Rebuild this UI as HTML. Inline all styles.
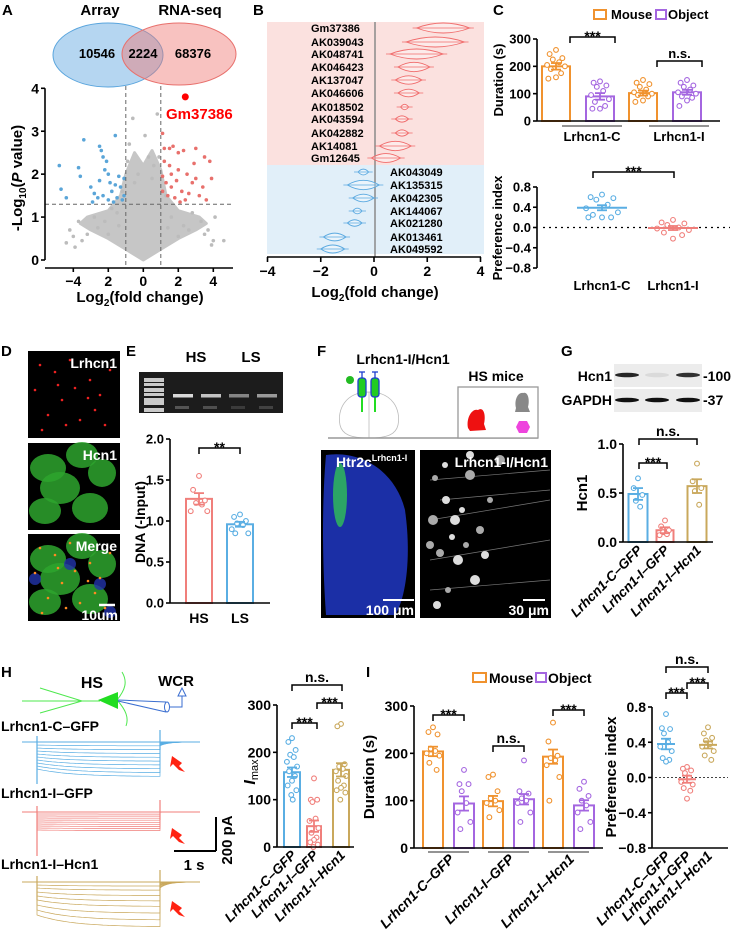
<!DOCTYPE html>
<html><head><meta charset="utf-8">
<style>
body{margin:0;background:#fff}
svg{display:block;font-family:"Liberation Sans",Arial,sans-serif;font-weight:bold}
</style></head>
<body>
<svg id="fig" width="733" height="938" viewBox="0 0 733 938">
<rect width="733" height="938" fill="#fff"/>
</svg>
<script>
// ===== DATA =====
// A volcano
const volBlueFC=[-4.8,-4.7,-4.4,-3.7,-3.4,-3.6,-2.5,-2.4,-2.3,-2.1,-2.2,-2.0,-2.5,-1.9,-1.6,-1.4,-1.6,-1.3,-1.1,-2.8,-2.6,-2.3,-2.0,-1.8,-1.5,-1.2,-3.0,-2.9,-1.7,-1.1];
const volBlueP=[2.2,1.65,1.45,2.15,2.8,1.95,2.65,2.55,2.4,2.3,2.1,2.0,1.85,1.8,2.9,1.95,1.75,1.7,1.9,1.55,1.45,1.5,1.4,1.6,1.45,1.4,1.7,1.35,1.35,1.5];
const volRedFC=[1.1,1.2,1.5,1.7,2.0,2.3,3.0,3.5,3.8,3.9,3.0,2.8,2.5,2.0,1.5,1.2,1.1,1.3,1.6,1.9,2.2,2.6,3.2,3.6,1.4,1.8,2.4,1.1,1.6,2.9,3.4,2.1];
const volRedP=[2.95,2.6,2.6,2.65,2.5,2.55,2.6,2.4,2.3,1.9,1.9,1.8,2.0,2.1,2.2,2.3,1.95,1.8,1.7,1.85,1.6,1.55,1.5,1.4,1.5,1.45,1.4,1.6,2.0,2.25,1.7,1.35];
const volGrayFC=[-0.6,0.1,0.8,-0.8,0.3,-4.2,4.6,4.1,-3.7,-4.4,3.3,2.8,-2.8,-1.8,0.6,-0.3,-1.2,1.3,-0.9,0.9,-2.2,2.3,-3.2,3.7,-0.5,0.5,-1.5,1.6,-4.0,4.0,-2.6,2.6,-3.5,3.5,-2.0,2.0,-1.4,1.4,-3.9,3.9];
const volGrayP=[3.3,2.9,3.4,2.7,2.4,0.7,0.45,1.0,0.9,0.4,0.9,1.1,1.0,1.2,2.2,2.0,1.6,1.5,2.3,2.4,0.9,0.8,0.6,0.7,1.8,1.9,1.1,1.0,0.55,0.45,0.75,0.7,0.45,0.6,0.6,0.55,0.8,0.75,0.3,0.35];
const cloudFC=[0,-1,-2,-3,-3.6,-3.2,-2,-1.3,-1,-0.5,0,0.5,1,1.3,2,3.2,3.6,3,2,1];
const cloudP=[0,0.25,0.5,0.7,0.85,1.0,1.15,1.5,2.0,2.5,2.2,2.55,2.1,1.5,1.15,1.0,0.85,0.7,0.5,0.25];
const hitFC=[2.4], hitP=[3.8];
// B violins
const upGenes=['Gm37386','AK039043','AK048741','AK046423','AK137047','AK046606','AK018502','AK043594','AK042882','AK14081','Gm12645'];
const upLo=[1.6,1.2,0.6,0.9,0.8,0.9,1.0,0.8,0.8,0.2,-0.1];
const upHi=[3.6,3.4,2.6,2.1,1.8,1.7,1.3,1.3,1.3,1.4,1.0];
const dnGenes=['AK043049','AK135315','AK042305','AK144067','AK021280','AK013461','AK049592'];
const dnLo=[-0.6,-1.0,-0.8,-0.8,-1.0,-1.9,-2.0];
const dnHi=[-0.2,0.2,0.0,-0.45,-0.45,-1.05,-1.1];
// C
const cCats=['Lrhcn1-C','Lrhcn1-I'];
const cMouseMean=[200,102], cMouseSem=[12,9];
const cObjMean=[90,105], cObjSem=[12,9];
const cMousePts=[[260,245,230,225,215,205,200,190,175,160,155],[150,140,135,125,115,105,100,95,90,75,70]];
const cObjPts=[[145,140,130,125,110,95,80,70,55,45,45],[150,140,130,125,115,105,100,90,85,75,55]];
const cPIMean=[0.39,-0.01], cPISem=[0.05,0.04];
const cPIPts=[[0.65,0.6,0.58,0.55,0.45,0.38,0.3,0.25,0.2,0.2,0.2],[0.15,0.1,0.08,0.05,0.0,-0.02,-0.05,-0.1,-0.15,-0.22]];
// E
const eCats=['HS','LS'];
const eMean=[1.27,0.96], eSem=[0.07,0.03];
const ePts=[[1.55,1.38,1.25,1.22,1.2,1.12,1.12],[1.08,1.05,1.0,0.97,0.95,0.9,0.85,0.85]];
// G
const gCats=['Lrhcn1-C–GFP','Lrhcn1-I–GFP','Lrhcn1-I–Hcn1'];
const gMean=[0.49,0.12,0.57], gSem=[0.06,0.03,0.07];
const gPts=[[0.65,0.55,0.48,0.42,0.36],[0.22,0.16,0.12,0.10,0.08,0.07],[0.80,0.62,0.55,0.52,0.38]];
// H
const hMean=[158,44,163], hSem=[10,12,14];
const hPts=[[230,222,205,195,190,180,170,160,150,140,130,120,110,100],[145,100,100,95,60,55,40,30,20,15,10,5,0],[260,255,175,170,165,160,150,140,130,125,120,115,100]];
const hBlueLevels=[3,6,9,12,15,18,21,24,27];
const hRedLevels=[2,4,6,8,10,12,14,16,18];
const hGoldLevels=[3,6,10,14,18,23,28,33];
// I
const iCats=['Lrhcn1-C–GFP','Lrhcn1-I–GFP','Lrhcn1-I–Hcn1'];
const iMouseMean=[204,99,193], iMouseSem=[10,11,15];
const iObjMean=[94,103,90], iObjSem=[15,11,11];
const iMousePts=[[255,245,240,210,205,200,195,180,165],[155,150,120,105,100,95,80,65],[265,225,195,190,185,175,150,100]];
const iObjPts=[[165,135,135,120,95,75,55,40],[185,120,115,105,100,95,75,55],[140,125,110,100,90,75,55,40]];
const iPIMean=[0.38,-0.02,0.37], iPISem=[0.06,0.04,0.04];
const iPIPts=[[0.72,0.56,0.55,0.50,0.40,0.35,0.30,0.22,0.20,0.18],[0.12,0.10,0.08,0.05,0.0,-0.05,-0.08,-0.12,-0.15,-0.24],[0.57,0.50,0.45,0.42,0.38,0.35,0.30,0.25,0.20]];

// ===== HELPERS =====
const NS='http://www.w3.org/2000/svg';
const svg=document.getElementById('fig');
const BLUE='#5aaee3',RED='#f07f7b',GOLD='#c9a85c',ORANGE='#f0922e',PURPLE='#a466e0';
function mk(tag,a,p){const e=document.createElementNS(NS,tag);for(const k in a)e.setAttribute(k,a[k]);(p||svg).appendChild(e);return e;}
function nm(e,n){
  
  
  return e;}
function G(n,p){return nm(mk('g',{},p),n);}
function T(p,x,y,s,o){const e=mk('text',Object.assign({x:x,y:y,'font-size':13},o||{}),p);e.textContent=s;return e;}
function lin(d0,d1,r0,r1){return v=>r0+(v-d0)*(r1-r0)/(d1-d0);}
function L(p,x1,y1,x2,y2,st,w,ex){return mk('line',Object.assign({x1:x1,y1:y1,x2:x2,y2:y2,stroke:st||'#000','stroke-width':w||1.5},ex||{}),p);}
function yAxis(p,x,sc,ticks,labels,fs){const g=G('y-axis',p);
  L(g,x,sc(ticks[0]),x,sc(ticks[ticks.length-1]),'#000',1.6);
  ticks.forEach((t,i)=>{L(g,x-4,sc(t),x,sc(t),'#000',1.6);
    const l=T(g,x-6,sc(t)+fs*0.36,labels[i],{'font-size':fs,'text-anchor':'end'});
    nm(l,'y-tick-label');});
  return g;}
function bracket(p,x1,x2,y,s,fs){const g=G('significance-bracket',p);
  mk('path',{d:`M${x1},${y+6}V${y}H${x2}V${y+6}`,fill:'none',stroke:'#000','stroke-width':1.5},g);
  T(g,(x1+x2)/2,s.indexOf('*')>=0?y+4:y-3,s,{'font-size':fs||14,'text-anchor':'middle'});return g;}
const OFF=[0,-5,5,-2.5,2.5,-7,7,-4,4,0,-6,6,-1,1];
function group(p,cx,w,mean,sem,pts,color,sc,isBar,name){const g=G(name,p);
  if(isBar){const r=mk('rect',{x:cx-w/2,y:sc(mean),width:w,height:sc(0)-sc(mean),fill:'#fff',stroke:color,'stroke-width':2},g);nm(r,'bar');}
  pts.forEach((v,i)=>{const c=mk('circle',{cx:cx+OFF[i%OFF.length]*w/22,cy:sc(v),r:2.4,fill:'#fff',stroke:color,'stroke-width':1.1},g);nm(c,'data-point');});
  if(!isBar){L(g,cx-w/2,sc(mean),cx+w/2,sc(mean),color,2);}
  L(g,cx,sc(mean-sem),cx,sc(mean+sem),color,1.8);
  L(g,cx-5,sc(mean+sem),cx+5,sc(mean+sem),color,1.8);
  L(g,cx-5,sc(mean-sem),cx+5,sc(mean-sem),color,1.8);
  return g;}
function rot(p,x,y,s,fs){const t=T(p,x,y,s,{'font-size':fs||13.5,'text-anchor':'end','font-style':'italic',transform:`rotate(-45 ${x} ${y})`});nm(t,'x-tick-label');return t;}
function ylab(p,x,y,s,fs){const t=T(p,x,y,s,{'font-size':fs||15,'text-anchor':'middle',transform:`rotate(-90 ${x} ${y})`});nm(t,'y-axis-title');return t;}
function letter(s,x,y){const t=T(svg,x,y,s,{'font-size':15});nm(t,'panel-label-'+s.toLowerCase());}
['A',2,15,'B',253,15,'C',493,15,'D',1,356,'E',126,356,'F',317,356,'G',561,356,'H',1,677,'I',366,677].reduce((a,v,i,arr)=>{if(i%3==0)letter(arr[i],arr[i+1],arr[i+2]);return a;},0);

// ===== PANEL A =====
(function(){const p=G('panel-a-venn');
  const e1=mk('ellipse',{cx:108,cy:55,rx:55,ry:32,fill:'rgba(90,165,225,0.45)',stroke:'#5aa5dd','stroke-width':1},p);nm(e1,'venn-array');
  const e2=mk('ellipse',{cx:179,cy:54,rx:57,ry:31,fill:'rgba(240,120,115,0.45)',stroke:'#e8706c','stroke-width':1},p);nm(e2,'venn-rnaseq');
  nm(T(p,100,15,'Array',{'font-size':15,'text-anchor':'middle'}),'venn-label-array');
  nm(T(p,190,15,'RNA-seq',{'font-size':15,'text-anchor':'middle'}),'venn-label-rnaseq');
  nm(T(p,97,58,'10546',{'font-size':13,'text-anchor':'middle'}),'venn-count');
  nm(T(p,143,58,'2224',{'font-size':13,'text-anchor':'middle'}),'venn-count');
  nm(T(p,193,58,'68376',{'font-size':13,'text-anchor':'middle'}),'venn-count');
  const v=G('panel-a-volcano');
  const xs=lin(0,1,143.3,160.8), ys=lin(0,4,260,88.3);
  const cl=mk('polygon',{points:cloudFC.map((f,i)=>xs(f)+','+ys(cloudP[i])).join(' '),fill:'#c6c6c6','stroke':'#c6c6c6','stroke-width':3,'stroke-linejoin':'round'},v);nm(cl,'nonsignificant-cloud');
  volGrayFC.forEach((f,i)=>{nm(mk('circle',{cx:xs(f),cy:ys(volGrayP[i]),r:1.8,fill:'#bcbcbc'},v),'gray-point');});
  volBlueFC.forEach((f,i)=>{nm(mk('circle',{cx:xs(f),cy:ys(volBlueP[i]),r:1.8,fill:'#5aa5d8'},v),'down-point');});
  volRedFC.forEach((f,i)=>{nm(mk('circle',{cx:xs(f),cy:ys(volRedP[i]),r:1.8,fill:'#e8706c'},v),'up-point');});
  nm(mk('circle',{cx:xs(hitFC[0]),cy:ys(hitP[0]),r:3.5,fill:'#f00'},v),'gm37386-point');
  nm(T(v,166,119,'Gm37386',{'font-size':15,fill:'#f00'}),'gm37386-label');
  [-1,1].forEach(f=>nm(L(v,xs(f),86,xs(f),268,'#666',1,{'stroke-dasharray':'4,3'}),'threshold-line'));
  nm(L(v,45,ys(1.3),233,ys(1.3),'#666',1,{'stroke-dasharray':'4,3'}),'threshold-line');
  yAxis(v,45,ys,[0,1,2,3,4],['0','1','2','3','4'],14);
  L(v,45,268,233,268,'#000',1.6);
  [-4,-2,0,2,4].forEach((t,i)=>{L(v,xs(t),268,xs(t),272,'#000',1.6);nm(T(v,xs(t),286,['−4','2','0','2','4'][i],{'font-size':14,'text-anchor':'middle'}),'x-tick-label');});
  const yl=mk('text',{x:22,y:178,'font-size':15,'text-anchor':'middle',transform:'rotate(-90 22 178)'},v);nm(yl,'y-axis-title');
  yl.innerHTML='-Log<tspan font-size="10" dy="4">10</tspan><tspan dy="-4">(</tspan><tspan font-style="italic">P</tspan> value)';
  const xl=mk('text',{x:140,y:302,'font-size':15,'text-anchor':'middle'},v);nm(xl,'x-axis-title');
  xl.innerHTML='Log<tspan font-size="10" dy="4">2</tspan><tspan dy="-4">(fold change)</tspan>';
})();

// ===== PANEL B =====
(function(){const p=G('panel-b-violins');
  const xs=lin(-4,4,267.5,480.5);
  nm(mk('rect',{x:267,y:22,width:217,height:143,fill:'#fbe1df'},p),'up-background');
  nm(mk('rect',{x:267,y:165,width:217,height:89,fill:'#e1eff9'},p),'down-background');
  nm(L(p,375,22,375,257,'#8a8a8a',1.5),'zero-line');
  function vio(lo,hi,y,col,n){const a=xs(lo),b=xs(hi),m=(a+b)/2,h=Math.min(5,2+(b-a)/12);
    const g=G(n,p);
    nm(mk('path',{d:`M${a},${y}Q${m},${y-2*h} ${b},${y}Q${m},${y+2*h} ${a},${y}Z`,fill:'rgba(255,255,255,0.35)',stroke:col,'stroke-width':0.9},g),'violin');
    L(g,a-4,y,b+4,y,col,0.7);}
  const upY=[28,42,54,67,80,93,107,119,133,146,158], dnY=[172,185,198,211,223,237,249];
  upGenes.forEach((s,i)=>{vio(upLo[i],upHi[i],upY[i],'#f06b6b','violin-'+s);nm(T(p,311,upY[i]+4,s,{'font-size':11}),'gene-label');});
  dnGenes.forEach((s,i)=>{vio(dnLo[i],dnHi[i],dnY[i],'#5aa9e0','violin-'+s);nm(T(p,390,dnY[i]+4,s,{'font-size':11}),'gene-label');});
  L(p,267,257,481,257,'#000',1.6);
  [-4,-2,0,2,4].forEach((t,i)=>{L(p,xs(t),257,xs(t),262,'#000',1.6);nm(T(p,xs(t),276,['−4','−2','0','2','4'][i],{'font-size':14,'text-anchor':'middle'}),'x-tick-label');});
  const xl=mk('text',{x:375,y:297,'font-size':15,'text-anchor':'middle'},p);nm(xl,'x-axis-title');
  xl.innerHTML='Log<tspan font-size="10" dy="4">2</tspan><tspan dy="-4">(fold change)</tspan>';
})();

// ===== PANEL C =====
(function(){const p=G('panel-c');
  const lg=G('legend',p);
  nm(mk('rect',{x:594,y:10,width:12,height:9,fill:'none',stroke:ORANGE,'stroke-width':2},lg),'legend-swatch-mouse');
  nm(T(lg,611,19,'Mouse',{'font-size':13}),'legend-entry-mouse');
  nm(mk('rect',{x:656,y:10,width:10,height:9,fill:'none',stroke:PURPLE,'stroke-width':2},lg),'legend-swatch-object');
  nm(T(lg,668,19,'Object',{'font-size':13}),'legend-entry-object');
  const ys=lin(0,300,121,39);
  const top=G('duration-chart',p);
  const xc=[570,657];
  cCats.forEach((c,i)=>{group(top,xc[i]-14,28,cMouseMean[i],cMouseSem[i],cMousePts[i],ORANGE,ys,true,'bar-mouse-'+c);
    group(top,xc[i]+44-14,28,cObjMean[i],cObjSem[i],cObjPts[i],PURPLE,ys,true,'bar-object-'+c);
    nm(L(top,xc[i]-8,126,xc[i]+52,126,'#555',1.2),'group-underline');
    nm(T(top,xc[i]+22,141,c,{'font-size':13,'text-anchor':'middle'}),'x-tick-label');});
  yAxis(top,537,ys,[0,100,200,300],['0','100','200','300'],13);
  L(top,537,121,720,121,'#000',1.6);
  ylab(top,503,80,'Duration (s)',13);
  bracket(top,570,615,37,'***',14);bracket(top,657,702,61,'n.s.',13);
  const bot=G('preference-chart',p);
  const ps=lin(-0.8,0.8,268,187);
  nm(L(bot,543,ps(0),730,ps(0),'#000',1.3,{'stroke-dasharray':'2,4'}),'zero-line');
  const bc=[602,673],cols=[BLUE,RED];
  cCats.forEach((c,i)=>{group(bot,bc[i],50,cPIMean[i],cPISem[i],cPIPts[i],cols[i],ps,false,'group-'+c);
    nm(T(bot,bc[i],290,c,{'font-size':13,'text-anchor':'middle'}),'x-tick-label');});
  yAxis(bot,537,ps,[-0.8,-0.4,0,0.4,0.8],['−0.8','−0.4','0.0','0.4','0.8'],13);
  ylab(bot,502,228,'Preference index',13);
  bracket(bot,593,674,172,'***',14);
})();

// ===== PANEL D =====
(function(){const p=G('panel-d-images');
  const ys=[351,443,534],names=['Lrhcn1','Hcn1','Merge'];
  const red=[[40,365],[55,372],[70,360],[90,380],[100,395],[62,400],[48,415],[80,420],[95,410],[35,390],[110,370],[75,388],[58,385],[88,398],[105,425],[42,430],[66,425]];
  ys.forEach((y,k)=>{const g=G('image-'+names[k].toLowerCase(),p);
    nm(mk('rect',{x:28,y:y,width:92,height:87,fill:'#000'},g),'micrograph');
    if(k>0){[[48,25,18,14],[82,12,16,13],[60,45,20,16],[102,30,14,14],[45,68,16,13],[90,65,18,15]].forEach(b=>{
      mk('ellipse',{cx:b[0],cy:y+b[1],rx:b[2],ry:b[3],fill:'#2ea52e',opacity:0.85},g);});
      if(k==2){[[70,30],[100,50],[35,45],[110,78]].forEach(b=>mk('circle',{cx:b[0],cy:y+b[1],r:6,fill:'#2233aa',opacity:0.8},g));}}
    if(k!=1)red.forEach(d=>mk('circle',{cx:d[0],cy:d[1]-351+y,r:1.3,fill:k==0?'#ee2222':'#ff8a22'},g));
    nm(T(g,117,y+17,names[k],{'font-size':14,fill:'#fff','text-anchor':'end'}),'image-label');});
  L(p,99,605,115,605,'#fff',2.5);
  nm(T(p,118,620,'10um',{'font-size':14,fill:'#fff','text-anchor':'end'}),'scale-label');
})();

// ===== PANEL E =====
(function(){const p=G('panel-e');
  nm(T(p,196,362,'HS',{'font-size':15,'text-anchor':'middle'}),'lane-label-hs');
  nm(T(p,251,362,'LS',{'font-size':15,'text-anchor':'middle'}),'lane-label-ls');
  const gel=G('gel-image',p);
  mk('rect',{x:139,y:372,width:144,height:41,fill:'#1c1c1c'},gel);
  [378,383,388,393,398,402,408].forEach((y,i)=>mk('rect',{x:144,y:y,width:20,height:i%2?3:4,fill:'#ddd',opacity:0.9},gel));
  [[175,0.9],[203,0.8],[231,0.5],[259,0.6]].forEach(b=>{mk('rect',{x:b[0]-2,y:394,width:20,height:3.5,fill:'#eee',opacity:b[1]},gel);mk('rect',{x:b[0],y:406,width:14,height:3,fill:'#bbb',opacity:b[1]*0.4},gel);});
  const ys=lin(0,2,603,439);
  const cx=[199,240],cols=[RED,BLUE];
  eCats.forEach((c,i)=>{group(p,cx[i],26,eMean[i],eSem[i],ePts[i],cols[i],ys,true,'bar-'+c);
    nm(T(p,cx[i],623,c,{'font-size':14,'text-anchor':'middle'}),'x-tick-label');});
  yAxis(p,170,ys,[0,0.5,1,1.5,2],['0.0','0.5','1.0','1.5','2.0'],13);
  L(p,170,603,270,603,'#000',1.6);
  ylab(p,145,522,'DNA (-Input)',14);
  bracket(p,199,240,448,'**',14);
})();

// ===== PANEL F =====
(function(){const p=G('panel-f');
  nm(T(p,403,364,'Lrhcn1-I/Hcn1',{'font-size':14,'text-anchor':'middle'}),'construct-title');
  const sc=G('schematic',p);
  mk('path',{d:'M369,392 C345,392 337,410 340,425 C342,434 350,438 369,438 C388,438 396,434 398,425 C401,410 393,392 369,392 Z M369,392 V438',fill:'none',stroke:'#bbb','stroke-width':0.8},sc);
  [362,375].forEach(x=>{mk('line',{x1:x,y1:397,x2:x,y2:412,stroke:'#22dd22','stroke-width':2},sc);
    mk('rect',{x:x-4,y:378,width:8,height:19,rx:3,fill:'#22cc22',stroke:'#1e3ed0','stroke-width':1.3},sc);
    mk('line',{x1:x,y1:372,x2:x,y2:378,stroke:'#1e3ed0','stroke-width':1.3},sc);
    mk('line',{x1:x-3,y1:372,x2:x+3,y2:372,stroke:'#1e3ed0','stroke-width':1.3},sc);});
  mk('circle',{cx:350,cy:380,r:4,fill:'#22bb22'},sc);
  L(sc,328,438,538,438,'#999',1.6);
  mk('rect',{x:458,y:387,width:80,height:51,fill:'#fff',stroke:'#999','stroke-width':1.3},sc);
  nm(T(sc,496,381,'HS mice',{'font-size':14,'text-anchor':'middle'}),'box-title');
  mk('path',{d:'M468,428 C466,418 472,408 478,410 C484,406 486,416 484,424 L486,430 L470,431 Z',fill:'#ee1111'},sc);
  mk('path',{d:'M516,408 C514,400 518,392 523,393 C528,391 530,400 528,407 L530,412 L515,412 Z',fill:'#888'},sc);
  mk('polygon',{points:'519,421 527,421 530,427 527,433 519,433 516,427',fill:'#ee44dd'},sc);
  const im1=G('image-htr2c',p);
  mk('rect',{x:321,y:450,width:94,height:168,fill:'#000'},im1);
  mk('path',{d:'M326,455 C360,450 395,470 405,510 C412,560 405,600 395,615 L326,615 C322,560 322,500 326,455 Z',fill:'#1b2fa6'},im1);
  mk('ellipse',{cx:340,cy:495,rx:7,ry:32,fill:'#2fb85a',opacity:0.85},im1);
  const t1=mk('text',{x:336,y:467,'font-size':14,fill:'#fff'},im1);nm(t1,'image-label');
  t1.innerHTML='Htr2c<tspan font-size="9" dy="-6">Lrhcn1-I</tspan>';
  L(im1,383,600,414,600,'#fff',2);
  nm(T(im1,414,615,'100 μm',{'font-size':14,fill:'#fff','text-anchor':'end'}),'scale-label');
  const im2=G('image-lrhcn1-hcn1',p);
  mk('rect',{x:420,y:450,width:131,height:168,fill:'#000'},im2);
  [[430,480,550,470],[430,520,550,500],[430,560,550,540],[430,590,550,580],[440,500,550,490]].forEach(l=>mk('line',{x1:l[0],y1:l[1],x2:l[2],y2:l[3],stroke:'#777','stroke-width':0.7},im2));
  [[435,478],[446,500],[433,520],[452,537],[440,553],[458,560],[448,590],[437,605],[470,475],[462,510],[480,530],[475,580],[490,500],[470,455],[500,460],[445,465],[430,545],[455,520],[466,545],[485,555]].forEach((c,i)=>mk('circle',{cx:c[0],cy:c[1],r:3+(i%3),fill:i%2?'#ddd':'#aaa'},im2));
  nm(T(im2,548,467,'Lrhcn1-I/Hcn1',{'font-size':14,fill:'#fff','text-anchor':'end'}),'image-label');
  L(im2,523,600,545,600,'#fff',2);
  nm(T(im2,549,615,'30 μm',{'font-size':14,fill:'#fff','text-anchor':'end'}),'scale-label');
})();

// ===== PANEL G =====
(function(){const p=G('panel-g');
  const wb=G('western-blot',p);
  mk('rect',{x:614,y:364,width:88,height:23,fill:'#ececec'},wb);
  mk('rect',{x:614,y:389,width:88,height:23,fill:'#ececec'},wb);
  [[627,0.9],[657,0.08],[688,0.85]].forEach(b=>mk('ellipse',{cx:b[0],cy:375,rx:12,ry:2.3,fill:'#111',opacity:b[1]},wb));
  [627,657,688].forEach(x=>mk('ellipse',{cx:x,cy:400,rx:12,ry:2.3,fill:'#111'},wb));
  nm(T(p,612,381,'Hcn1',{'font-size':14,'text-anchor':'end'}),'blot-label');
  nm(T(p,612,405,'GAPDH',{'font-size':14,'text-anchor':'end'}),'blot-label');
  nm(T(p,703,381,'-100',{'font-size':14}),'mw-label');
  nm(T(p,703,405,'-37',{'font-size':14}),'mw-label');
  const ys=lin(0,1,542,444);
  const cx=[638,665,697],cols=[BLUE,RED,GOLD];
  gCats.forEach((c,i)=>{group(p,cx[i],i==1?17:19,gMean[i],gSem[i],gPts[i],cols[i],ys,true,'bar-'+c);rot(p,cx[i]+5,551,c,13.5);});
  yAxis(p,623,ys,[0,0.5,1],['0.0','0.5','1.0'],14);
  L(p,623,542,713,542,'#000',1.6);
  ylab(p,587,493,'Hcn1',15);
  bracket(p,639,667,463,'***',14);bracket(p,639,697,439,'n.s.',14);
})();

// ===== PANEL H =====
(function(){const p=G('panel-h');
  const sc=G('recording-schematic',p);
  const gr='#4ee84e';
  L(sc,22,701,100,701,gr,1);L(sc,82,701,40,688,gr,1);L(sc,82,701,40,713,gr,1);
  mk('path',{d:'M117,700 C125,690 128,682 122,672 M117,700 C126,710 129,718 126,726',fill:'none',stroke:gr,'stroke-width':1},sc);
  mk('polygon',{points:'98,700 118,692 118,709',fill:'#22dd22'},sc);
  L(sc,118,700,166,702,'#3a6ed0',1);L(sc,118,701,166,712,'#3a6ed0',1);
  mk('ellipse',{cx:167,cy:707,rx:2.5,ry:5,fill:'none',stroke:'#3a6ed0','stroke-width':1},sc);
  mk('path',{d:'M169,707 H182 V696',fill:'none',stroke:'#3a6ed0','stroke-width':1},sc);
  mk('polygon',{points:'182,688 178,696 186,696',fill:'#fff',stroke:'#3a6ed0','stroke-width':1},sc);
  nm(T(sc,92,688,'HS',{'font-size':16,'text-anchor':'middle'}),'schematic-label');
  nm(T(sc,176,686,'WCR',{'font-size':15,'text-anchor':'middle'}),'schematic-label');
  function traces(levels,base,col,sag,spk,name,label,ly){const g=G(name,p);
    nm(T(g,1,ly,label,{'font-size':14}),'trace-label');
    L(g,22,base,200,base,col,1);
    levels.forEach(Lv=>{let d=`M22,${base}H37`;
      for(let t=37;t<=160;t+=3){d+=` L${t},${(base+Lv*(1+sag*(1-Math.exp(-(t-37)/35)))).toFixed(1)}`;}
      const tail=Lv*sag*0.5;
      for(let t=160;t<=200;t+=2){d+=` L${t},${(base+tail*Math.exp(-(t-160)/8)).toFixed(1)}`;}
      nm(mk('path',{d:d,fill:'none',stroke:col,'stroke-width':0.7},g),'current-trace');});
    L(g,37,base-6,37,base+spk,col,1.2);L(g,160,base-12,160,base+8,col,1.2);}
  traces(hBlueLevels,742,BLUE,0.28,42,'traces-lrhcn1-c-gfp','Lrhcn1-C–GFP',731);
  traces(hRedLevels,812,RED,0.03,44,'traces-lrhcn1-i-gfp','Lrhcn1-I–GFP',798);
  traces(hGoldLevels,882,GOLD,0.36,18,'traces-lrhcn1-i-hcn1','Lrhcn1-I–Hcn1',869);
  [758,830,903].forEach(y=>{const a=mk('path',{d:`M185,${y+14} L179,${y+8} L182,${y+5} L172,${y-2} L170,${y+9} L173,${y+6} L179,${y+12} Z`,fill:'#f21'},p);nm(a,'red-arrow');});
  L(p,174,851,216,851,'#000',2);L(p,216,817,216,851,'#000',2);
  nm(T(p,194,870,'1 s',{'font-size':15,'text-anchor':'middle'}),'scale-label');
  const sp=T(p,232,840,'200 pA',{'font-size':15,'text-anchor':'middle',transform:'rotate(-90 232 840)'});nm(sp,'scale-label');
  const ys=lin(0,300,847,705);
  const cx=[292,314,341],cols=[BLUE,RED,GOLD],ws=[16,14,16];
  iCats.forEach((c,i)=>{group(p,cx[i],ws[i],hMean[i],hSem[i],hPts[i],cols[i],ys,true,'bar-'+c);rot(p,cx[i]+5,856,c,13.5);});
  yAxis(p,277,ys,[0,100,200,300],['0','100','200','300'],14);
  L(p,277,847,354,847,'#000',1.6);
  const yl=mk('text',{x:255,y:772,'font-size':16,'text-anchor':'middle',transform:'rotate(-90 255 772)'},p);nm(yl,'y-axis-title');
  yl.innerHTML='<tspan font-style="italic">I</tspan><tspan font-size="11" font-weight="normal" dy="3">max</tspan>';
  bracket(p,292,317,723,'***',14);bracket(p,317,342,703,'***',14);bracket(p,292,342,685,'n.s.',14);
})();

// ===== PANEL I =====
(function(){const p=G('panel-i');
  const lg=G('legend',p);
  nm(mk('rect',{x:473,y:673,width:13,height:9,fill:'none',stroke:ORANGE,'stroke-width':2},lg),'legend-swatch-mouse');
  nm(T(lg,489,683,'Mouse',{'font-size':14}),'legend-entry-mouse');
  nm(mk('rect',{x:536,y:673,width:10,height:9,fill:'none',stroke:PURPLE,'stroke-width':2},lg),'legend-swatch-object');
  nm(T(lg,548,683,'Object',{'font-size':14}),'legend-entry-object');
  const ys=lin(0,300,848,706);
  const gx=[433,493,553];
  iCats.forEach((c,i)=>{group(p,gx[i],20,iMouseMean[i],iMouseSem[i],iMousePts[i],ORANGE,ys,true,'bar-mouse-'+c);
    group(p,gx[i]+31,20,iObjMean[i],iObjSem[i],iObjPts[i],PURPLE,ys,true,'bar-object-'+c);
    nm(L(p,gx[i]-5,852,gx[i]+36,852,'#555',1.2),'group-underline');
    rot(p,gx[i]+22,860,c,14);});
  yAxis(p,414,ys,[0,100,200,300],['0','100','200','300'],14);
  L(p,414,848,603,848,'#000',1.6);
  ylab(p,374,777,'Duration (s)',15);
  bracket(p,433,464,715,'***',14);bracket(p,493,524,746,'n.s.',14);bracket(p,553,584,710,'***',14);
  const ps=lin(-0.8,0.8,848,707);
  nm(L(p,655,ps(0),728,ps(0),'#444',1,{'stroke-dasharray':'2,2'}),'zero-line');
  const cx=[666,687,708],cols=[BLUE,RED,GOLD];
  iCats.forEach((c,i)=>{group(p,cx[i],18,iPIMean[i],iPISem[i],iPIPts[i],cols[i],ps,false,'group-'+c);rot(p,cx[i]+5,857,c,14);});
  yAxis(p,652,ps,[-0.8,-0.4,0,0.4,0.8],['−0.8','−0.4','0.0','0.4','0.8'],14);
  L(p,652,848,728,848,'#000',1.6);
  ylab(p,616,777,'Preference index',15);
  bracket(p,666,687,693,'***',14);bracket(p,687,708,683,'***',14);bracket(p,666,708,667,'n.s.',14);
})();
</script>
</body></html>
